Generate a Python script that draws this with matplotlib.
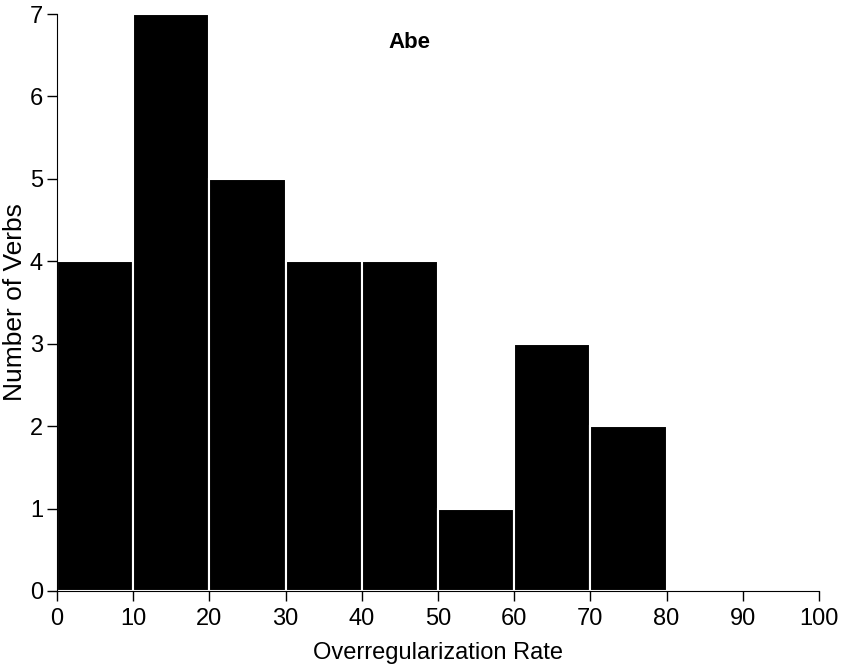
import matplotlib
matplotlib.use("Agg")
import matplotlib.pyplot as plt

bin_edges = [0, 10, 20, 30, 40, 50, 60, 70, 80, 90, 100]
counts = [4, 7, 5, 4, 4, 1, 3, 2, 0, 0]
x_ticks = [0, 10, 20, 30, 40, 50, 60, 70, 80, 90, 100]
y_ticks = [0, 1, 2, 3, 4, 5, 6, 7]

plt.rcParams['font.family'] = ['Liberation Sans', 'DejaVu Sans']

fig = plt.figure(figsize=(8.43, 6.69), dpi=100)
ax = fig.add_axes([0.0676, 0.1166, 0.9039, 0.8624])

lefts = bin_edges[:-1]
widths = [b - a for a, b in zip(bin_edges[:-1], bin_edges[1:])]
ax.bar(lefts, counts, width=widths, align='edge', color='black',
       edgecolor='white', linewidth=1.5)

ax.set_xlim(0, 100)
ax.set_ylim(0, 7)
ax.set_xticks(x_ticks)
ax.set_yticks(y_ticks)
ax.tick_params(labelsize=17, length=7, width=1, direction='out')
ax.tick_params(axis='x', pad=5)
ax.tick_params(axis='y', pad=3)
for side in ['top', 'right']:
    ax.spines[side].set_visible(False)

ax.set_xlabel('Overregularization Rate', fontsize=17, labelpad=9)
ax.set_ylabel('Number of Verbs', fontsize=19, labelpad=2)
ax.text(46.3, 6.66, 'Abe', fontsize=16, fontweight='bold', ha='center', va='center')

fig.savefig('out.png', dpi=100)
